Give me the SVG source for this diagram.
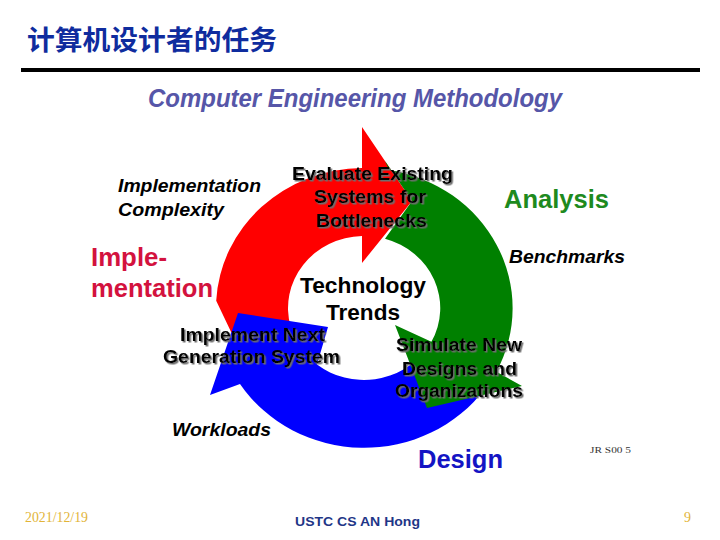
<svg xmlns="http://www.w3.org/2000/svg" width="720" height="540" viewBox="0 0 720 540">
  <defs>
    <filter id="shadow" x="-10%" y="-30%" width="120%" height="160%">
      <feDropShadow dx="1.5" dy="1.5" stdDeviation="0.4" flood-color="#6e6e6e" flood-opacity="1"/>
    </filter>
    <style>
      .sans { font-family: "Liberation Sans", Arial, sans-serif; }
      .bi { font-family: "Liberation Sans", Arial, sans-serif; font-weight: bold; font-style: italic; fill: #000; font-size: 18px; }
      .sh { font-family: "Liberation Sans", Arial, sans-serif; font-weight: bold; fill: #000; font-size: 18px; filter: url(#shadow); }
      .big { font-family: "Liberation Sans", Arial, sans-serif; font-weight: bold; font-size: 25px; }
      .foot { font-family: "Liberation Serif", "Times New Roman", serif; fill: #E2B437; font-size: 14px; }
    </style>
  </defs>
  <rect width="720" height="540" fill="#ffffff"/>

  <g id="header">
    <text x="27" y="50" font-family="'Liberation Sans', 'Noto Sans CJK SC', sans-serif" font-weight="bold" font-size="27" fill="#0F2C9E" textLength="250" lengthAdjust="spacingAndGlyphs">计算机设计者的任务</text>
    <rect x="21" y="68" width="679" height="4" fill="#000000"/>
  </g>

  <g id="figure-title">
    <text x="148" y="107" font-family="'Liberation Sans', Arial, sans-serif" font-weight="bold" font-style="italic" font-size="26" fill="#5656A8" textLength="414" lengthAdjust="spacingAndGlyphs">Computer Engineering Methodology</text>
  </g>

  <g id="cycle">
    <path id="arrow-implementation" fill="#FF0000" d="M 362,168 A 148 140 0 0 0 216.2,300.7 L 233,336 L 290.6,326.6 A 76 72 0 0 1 362,236 L 362,263 L 412,201 L 362,127 Z"/>
    <path id="arrow-design" fill="#0000FF" d="M 485.2,388.3 A 148 140 0 0 1 240,384 L 210,395 L 238,313 L 328,327 L 317,364.6 A 76 72 0 0 0 426.2,349.3 Z"/>
    <path id="arrow-analysis" fill="#008000" d="M 412,201 L 385,161 L 389,170 A 148 140 0 0 1 496.4,371.8 L 522,386 L 427,408 L 395,325 L 431.4,341.8 A 76 72 0 0 0 385,238.8 Z"/>
  </g>

  <g id="node-impl-complexity">
    <text class="bi" x="118" y="192" textLength="143" lengthAdjust="spacingAndGlyphs">Implementation</text>
    <text class="bi" x="118" y="216" textLength="106" lengthAdjust="spacingAndGlyphs">Complexity</text>
  </g>

  <g id="node-implementation">
    <text class="big" x="91" y="266" fill="#D3123E" textLength="76" lengthAdjust="spacingAndGlyphs">Imple-</text>
    <text class="big" x="91" y="297" fill="#D3123E" textLength="122" lengthAdjust="spacingAndGlyphs">mentation</text>
  </g>

  <g id="node-evaluate">
    <text class="sh" x="292" y="180" textLength="161" lengthAdjust="spacingAndGlyphs">Evaluate Existing</text>
    <text class="sh" x="314" y="203" textLength="112" lengthAdjust="spacingAndGlyphs">Systems for</text>
    <text class="sh" x="316" y="227" textLength="111" lengthAdjust="spacingAndGlyphs">Bottlenecks</text>
  </g>

  <g id="node-analysis">
    <text class="big" x="504" y="208" fill="#1E8A1E" textLength="105" lengthAdjust="spacingAndGlyphs">Analysis</text>
  </g>

  <g id="node-benchmarks">
    <text class="bi" x="509" y="263" textLength="116" lengthAdjust="spacingAndGlyphs">Benchmarks</text>
  </g>

  <g id="node-technology">
    <text class="sans" x="300" y="293" font-weight="bold" font-size="22.5" fill="#000" textLength="126" lengthAdjust="spacingAndGlyphs">Technology</text>
    <text class="sans" x="326" y="320" font-weight="bold" font-size="22.5" fill="#000" textLength="74" lengthAdjust="spacingAndGlyphs">Trends</text>
  </g>

  <g id="node-implement-next">
    <text class="sh" x="180" y="341" textLength="145" lengthAdjust="spacingAndGlyphs">Implement Next</text>
    <text class="sh" x="163" y="363" textLength="177" lengthAdjust="spacingAndGlyphs">Generation System</text>
  </g>

  <g id="node-simulate">
    <text class="sh" x="396" y="351" textLength="126" lengthAdjust="spacingAndGlyphs">Simulate New</text>
    <text class="sh" x="402" y="375" textLength="115" lengthAdjust="spacingAndGlyphs">Designs and</text>
    <text class="sh" x="395" y="397" textLength="128" lengthAdjust="spacingAndGlyphs">Organizations</text>
  </g>

  <g id="node-workloads">
    <text class="bi" x="172" y="436" textLength="99" lengthAdjust="spacingAndGlyphs">Workloads</text>
  </g>

  <g id="node-design">
    <text class="big" x="418" y="468" fill="#1414C4" textLength="85" lengthAdjust="spacingAndGlyphs">Design</text>
  </g>

  <g id="credit">
    <text x="590" y="453" font-family="'Liberation Serif', 'Times New Roman', serif" font-size="9" fill="#333333" textLength="41" lengthAdjust="spacingAndGlyphs">JR S00 5</text>
  </g>

  <g id="footer">
    <text class="foot" x="25" y="522" textLength="63" lengthAdjust="spacingAndGlyphs">2021/12/19</text>
    <text class="sans" x="295" y="526" font-weight="bold" font-size="13.5" fill="#1F3687" textLength="125" lengthAdjust="spacingAndGlyphs">USTC CS AN Hong</text>
    <text class="foot" x="684" y="522">9</text>
  </g>
</svg>
